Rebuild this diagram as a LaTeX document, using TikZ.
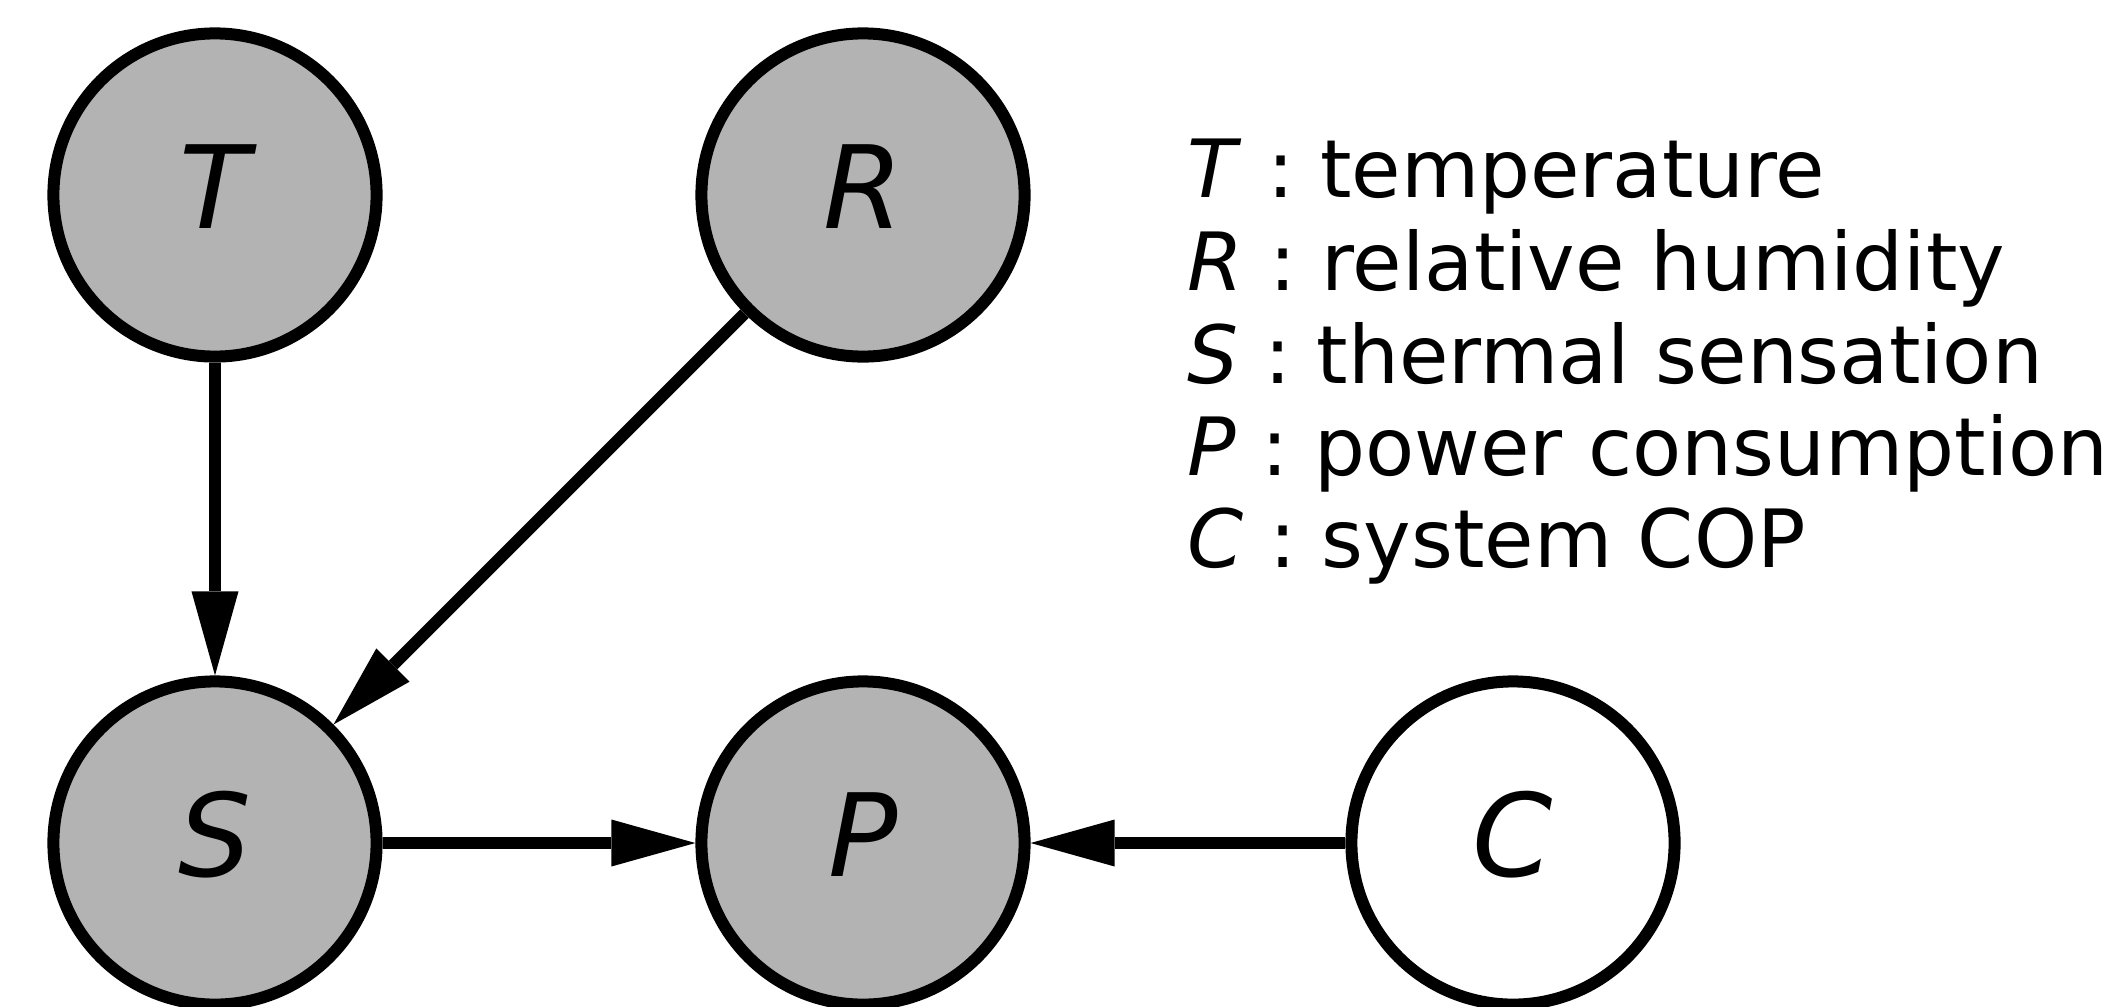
\documentclass[tikz,border=0pt]{standalone}
\usepackage{fontspec}
\setmainfont{DejaVu Sans}[ItalicFont={DejaVu Sans Oblique}]
\usetikzlibrary{arrows.meta}
\definecolor{nodegray}{RGB}{179,179,179}
\tikzset{
  var/.style={circle, draw=black, line width=0.12cm, minimum size=3.23cm, inner sep=0pt,
    text height=0.66cm, text depth=0pt,
    font=\fontsize{32.7pt}{39pt}\selectfont\itshape},
  obs/.style={var, fill=nodegray},
  lat/.style={var, fill=white},
  edge/.style={line width=0.12cm, -{Triangle[length=0.84cm, width=0.47cm, line width=0pt]}},
  legend/.style={anchor=base west, inner sep=0pt, font=\fontsize{22.85pt}{27pt}\selectfont}
}
\begin{document}
\begin{tikzpicture}[x=0.01cm, y=-0.01cm]
  \clip (0,0) rectangle (2104,1006);
  \fill[white] (0,0) rectangle (2104,1006);
  \node[obs] (T) at (215,195) {T};
  \node[obs] (R) at (863,195) {R};
  \node[obs] (S) at (215,843) {S};
  \node[obs] (P) at (863,843) {P};
  \node[lat] (C) at (1513,843) {C};
  \draw[edge] (T) -- (S);
  \draw[edge] (R) -- (S);
  \draw[edge] (S) -- (P);
  \draw[edge] (C) -- (P);
  \node[legend] (l1) at (1187,197) {\textit{T} : temperature};
  \node[legend] (l2) at (1187,290) {\textit{R} : relative humidity};
  \node[legend] (l3) at (1187,383) {\textit{S} : thermal sensation};
  \node[legend] (l4) at (1187,475) {\textit{P} : power consumption};
  \node[legend] (l5) at (1187,567) {\textit{C} : system COP};
\end{tikzpicture}
\end{document}
